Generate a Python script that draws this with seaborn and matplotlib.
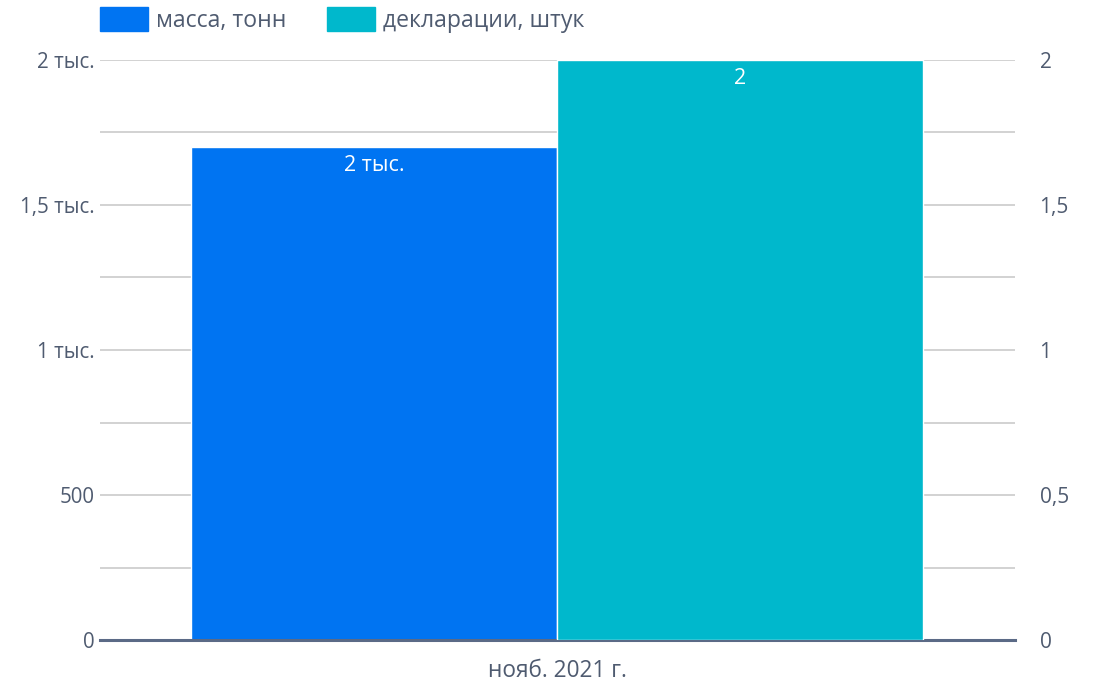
import numpy as np
import pandas as pd
import matplotlib.pyplot as plt
import seaborn as sns

# chart data
periods = ["нояб. 2021 г."]
series = ["масса, тонн", "декларации, штук"]
mass_tonnes = [1700]
declarations = [2]

colors = {"масса, тонн": "#0074f2", "декларации, штук": "#00b8cc"}
text_color = "#4f5b70"

sns.set_theme(style="white")
plt.rcParams['font.family'] = ['Open Sans', 'DejaVu Sans']

# long tables; each axis gets NaN for the other series so dodge stays in place
left_df = pd.DataFrame({
    "period": periods * 2,
    "series": [series[0]] * len(periods) + [series[1]] * len(periods),
    "value": mass_tonnes + [np.nan] * len(periods),
})
right_df = pd.DataFrame({
    "period": periods * 2,
    "series": [series[0]] * len(periods) + [series[1]] * len(periods),
    "value": [np.nan] * len(periods) + declarations,
})

fig = plt.figure(figsize=(11.1, 6.84), dpi=100)
ax = fig.add_axes([0.09, 0.0643, 0.824, 0.848])
ax2 = ax.twinx()

sns.barplot(data=left_df, x="period", y="value", hue="series", hue_order=series,
            palette=colors, saturation=1, ax=ax, width=0.8, legend=False,
            errorbar=None, zorder=3)
sns.barplot(data=right_df, x="period", y="value", hue="series", hue_order=series,
            palette=colors, saturation=1, ax=ax2, width=0.8, legend=False,
            errorbar=None, zorder=3)

ax.set_ylim(0, 2000)
ax2.set_ylim(0, 2)
ax.set_xlim(-0.5, 0.5)


def fmt_left(v):
    if v == 0:
        return "0"
    if v < 1000:
        return f"{v:g}"
    return f"{v / 1000:g}".replace(".", ",") + " тыс."


left_ticks = np.arange(0, 2001, 250)
ax.set_yticks(left_ticks)
ax.set_yticklabels([fmt_left(t) if t % 500 == 0 else "" for t in left_ticks])
right_ticks = [0, 0.5, 1, 1.5, 2]
ax2.set_yticks(right_ticks)
ax2.set_yticklabels([f"{t:g}".replace(".", ",") for t in right_ticks])

ax.grid(axis="y", color="#d2d2d2", linewidth=1.4, zorder=0)
ax.set_axisbelow(True)
ax.tick_params(axis="y", length=0, pad=4, labelsize=14.8, labelcolor=text_color)
ax2.tick_params(axis="y", length=0, pad=18, labelsize=15, labelcolor=text_color)
ax.tick_params(axis="x", length=0, pad=14, labelsize=16.3, labelcolor=text_color)

for a in (ax, ax2):
    for s in a.spines.values():
        s.set_visible(False)
    a.set_xlabel("")
    a.set_ylabel("")
ax.spines["bottom"].set_visible(True)
ax.spines["bottom"].set_color("#5b6a86")
ax.spines["bottom"].set_linewidth(2.2)
ax.spines["bottom"].set_zorder(5)

# value labels inside the top of each bar
for a, fmt in ((ax, lambda v: f"{round(v / 1000):g} тыс."), (ax2, lambda v: f"{round(v):g}")):
    for c in a.containers:
        vals = [b.get_height() for b in c]
        labels = [fmt(v) if np.isfinite(v) and v > 0 else "" for v in vals]
        texts = a.bar_label(c, labels=labels, padding=-6, color="white", fontsize=15.5)
        for t in texts:
            t.set_va("top")

handles = [plt.Rectangle((0, 0), 1, 1, color=colors[s]) for s in series]
ax.legend(handles, series, loc="center left", bbox_to_anchor=(0.0, 1.069), ncol=2,
          frameon=False, fontsize=16.6, labelcolor=text_color, handlelength=2.08,
          handleheight=1.2, handletextpad=0.35, columnspacing=1.75, borderaxespad=0,
          borderpad=0)

plt.savefig("out.png")
